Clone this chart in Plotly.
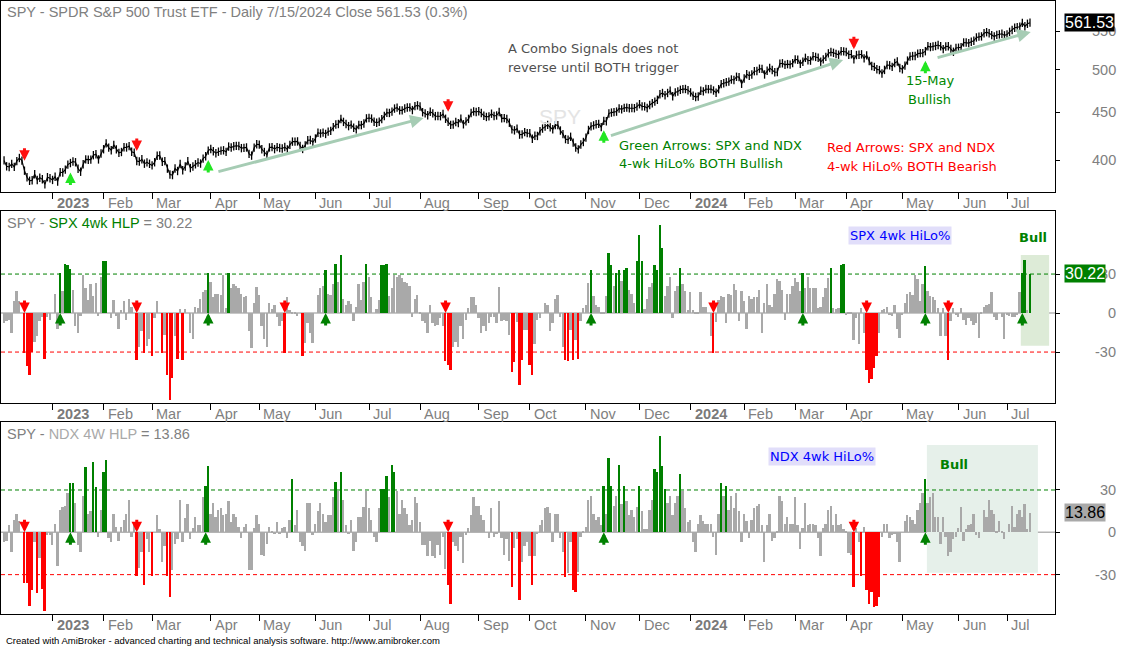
import math
import plotly.graph_objects as go

# SPY daily closes, 5 Dec 2022 .. 15 Jul 2024 (one row per month)
close = [
    399.6, 393.8, 393.2, 396.2, 393.3, 398.9, 402.0, 399.4, 389.6, 383.3, 380.0, 380.5, 386.2, 380.7, 382.9, 381.4, 376.7, 383.4, 382.4,
    380.8, 383.8, 379.4, 388.1, 387.9, 390.6, 395.5, 397.0, 398.5, 397.8, 391.5, 388.6, 395.9, 400.6, 400.2, 400.4, 404.8, 405.7, 400.6, 406.5,
    410.8, 416.8, 412.4, 409.8, 415.2, 410.7, 407.1, 408.0, 412.8, 412.6, 414.0, 408.3, 407.3, 399.1, 398.5, 400.7, 396.4, 397.7, 396.3,
    394.7, 397.8, 404.2, 404.5, 398.3, 398.9, 391.6, 385.9, 385.4, 391.7, 389.3, 396.1, 390.0, 393.7, 398.9, 392.1, 393.7, 395.8, 397.5, 396.5, 401.4, 403.7, 409.4,
    411.0, 408.7, 406.8, 408.3, 409.4, 409.7, 408.1, 413.5, 412.5, 413.9, 414.2, 414.1, 411.9, 412.2, 412.6, 406.1, 404.4, 412.4, 415.9,
    415.5, 410.8, 408.0, 405.1, 412.6, 412.9, 410.9, 412.9, 412.1, 411.6, 413.0, 410.6, 415.2, 418.6, 418.6, 418.8, 414.1, 411.1, 414.7, 420.0, 420.2, 417.9,
    421.8, 427.9, 427.1, 428.0, 426.6, 429.1, 429.9, 433.8, 436.7, 437.2, 442.6, 439.5, 437.2, 434.9, 436.5, 433.2, 431.4, 436.2, 436.0, 437.7, 443.3,
    443.8, 443.1, 439.7, 438.6, 439.7, 442.5, 446.0, 449.6, 449.3, 450.8, 454.2, 455.2, 452.2, 452.2, 454.2, 455.4, 455.5, 452.5, 456.9, 457.8,
    456.5, 450.1, 448.8, 446.8, 450.7, 448.8, 445.8, 445.9, 445.7, 448.1, 442.9, 439.6, 436.3, 436.5, 439.3, 438.2, 443.0, 436.9, 440.0, 442.8, 449.2, 451.0, 450.4,
    451.2, 449.2, 446.2, 444.9, 445.5, 448.5, 446.0, 446.5, 450.4, 443.4, 443.6, 442.7, 438.6, 431.4, 430.4, 432.2, 425.9, 426.1, 428.5, 427.5,
    427.3, 421.6, 424.7, 424.5, 429.5, 432.3, 434.5, 436.3, 433.7, 431.5, 436.0, 436.0, 430.2, 426.4, 421.2, 420.5, 423.6, 417.6, 412.6, 410.7, 415.6, 418.2,
    422.7, 430.8, 434.7, 435.7, 436.9, 437.3, 433.8, 440.6, 440.2, 448.7, 449.7, 450.2, 450.8, 454.3, 453.3, 455.0, 455.3, 454.5, 454.9, 454.6, 456.4,
    459.1, 456.7, 456.6, 454.8, 458.2, 460.2, 462.0, 464.1, 470.5, 472.0, 469.3, 472.0, 474.8, 468.3, 472.7, 473.7, 475.7, 476.5, 476.7, 475.3,
    472.7, 468.8, 467.3, 467.9, 474.6, 473.9, 476.6, 476.4, 476.7, 474.9, 472.3, 476.5, 482.4, 483.5, 484.9, 485.4, 488.0, 487.4, 491.3, 490.9, 482.9,
    489.2, 494.4, 492.6, 494.0, 498.1, 498.3, 501.2, 501.0, 494.1, 498.6, 502.0, 499.5, 496.8, 497.2, 507.5, 507.9, 506.0, 506.9, 506.3, 508.1,
    512.9, 512.3, 507.2, 509.8, 514.8, 511.7, 511.3, 516.8, 516.0, 515.0, 509.8, 512.9, 516.0, 520.5, 522.2, 521.2, 519.8, 518.8, 523.2, 523.1,
    522.2, 518.8, 519.4, 513.1, 518.4, 518.7, 519.3, 514.1, 518.0, 510.9, 504.5, 503.5, 500.6, 499.5, 495.2, 499.7, 505.7, 505.4, 503.5, 508.3, 510.1, 502.0,
    500.4, 505.0, 511.3, 516.6, 517.1, 517.2, 520.2, 520.8, 520.9, 523.3, 529.8, 528.7, 529.5, 530.1, 531.4, 529.8, 526.0, 529.4, 529.8, 526.1, 522.6, 527.4,
    527.8, 528.4, 534.7, 534.7, 533.9, 535.7, 537.0, 541.4, 542.5, 542.8, 547.1, 548.5, 547.0, 544.5, 542.7, 544.8, 545.5, 546.4, 544.2,
    545.3, 549.0, 551.5, 554.6, 555.3, 555.8, 561.3, 556.5, 560.0, 561.53,
]

# SPX 4-week HiLo% (10 values per row)
spx_hlp = [
    -8, -6, -5, -15, 9, 17, 9, 0, -31, -41,
    -48, -30, -22, -18, -6, -3, -35, -3, -5, 0,
    15, -12, 31, 17, 38, 37, 34, 18, -10, -15,
    -2, 29, 19, 10, 22, 13, 23, -2, 28, 40,
    40, 0, -4, 10, -2, -12, 2, 9, -5, 11,
    5, 0, -36, -26, -14, -31, -25, -20, -33, -4,
    9, 0, -31, -17, -48, -67, -50, -18, -35, 3,
    -36, 3, 0, -15, -20, 5, 4, 11, 16, 18,
    31, 24, 12, 15, 15, 14, 29, 4, 31, 19,
    22, 21, 19, 15, 12, 13, -14, -27, 8, 20,
    14, -10, -20, -26, 8, 3, 6, -3, -10, -6,
    -31, 12, 2, 1, 1, -2, 0, -33, -23, -8,
    -15, -23, 0, 14, 19, 21, 33, 15, 14, 22,
    38, 24, 45, 11, 6, 9, 7, -6, 5, 22,
    10, 24, 38, 28, 12, 0, 3, 10, 37, 37,
    38, 13, 19, 29, 28, 29, 27, 24, 23, 21,
    -3, 11, 14, 1, -6, -8, -15, 6, -8, -10,
    -9, -4, -10, -37, -40, -44, -26, -22, -26, -10,
    -20, -5, 4, 12, 12, 6, -4, -15, -10, -14,
    -8, -3, -3, -8, 20, -6, -5, -6, -17, -45,
    -38, -7, -55, -36, -13, -13, -40, -48, -24, -5,
    -4, 0, 8, 6, -14, -8, 11, 14, -3, -26,
    -36, -37, -13, -36, -21, -35, -6, 4, 6, 23,
    33, 13, 6, 5, 1, 1, 13, 46, 37, 21,
    31, 33, 25, 33, 35, 18, 15, 8, 40, 60,
    40, 3, 11, 20, 23, 37, 33, 68, 50, 13,
    21, 28, -4, 17, 21, 35, 22, 17, 2, 16,
    2, 1, 1, 16, 5, 5, 0, -18, -31, -7,
    10, 13, 12, -8, 15, 14, 22, 18, -6, 17,
    9, -12, 13, 11, 12, 12, 18, -15, 8, 22,
    6, 5, 15, 26, 25, 18, -5, 15, 15, 21,
    27, 24, 17, 31, 19, 28, 19, 19, 19, 4,
    5, 12, 19, 27, 35, 4, 3, 4, 37, 38,
    -1, 1, 1, -21, -4, -24, 4, -15, -44, -54,
    -51, -42, -33, -15, 2, 3, 5, -1, -2, 6,
    -12, -19, -1, 8, 15, 16, 14, 29, 26, 9,
    22, 36, 17, 13, 12, 10, 4, -18, 4, -18,
    -36, -6, 4, -1, -3, 4, -5, -9, -4, -6,
    -9, -8, -19, 1, 5, 6, 7, 16, -3, -5,
    0, -3, -20, -1, -2, -3, -3, -1, 16, 31,
    41, 2, 30.22,
]

# NDX 4-week HiLo%
ndx_hlp = [
    -7, -6, 5, -14, 9, 13, 8, 0, -36, -36,
    -52, -41, -7, -43, -18, -40, -56, -2, -2, -9,
    6, -24, 16, 18, 19, 28, 35, 35, 21, -9,
    -14, 26, 46, 13, 15, 50, 32, -3, 16, 43,
    51, -4, -7, 13, 4, -6, 4, 9, 13, 23,
    -3, 5, -31, -25, -14, -37, -5, -14, -31, 0,
    12, 2, -21, -10, -31, -46, -27, -8, -5, 23,
    -7, 10, 20, -5, 3, 11, 5, 5, 25, 33,
    47, 13, 21, 11, 16, 17, 12, 13, 22, 7,
    13, 11, 4, -4, 4, 6, -27, -27, 3, 12,
    6, -16, -17, -8, 4, 1, -1, 7, -1, 3,
    4, -4, 9, 38, 5, 16, -7, -10, -13, 21,
    21, -2, 6, 15, 21, 13, 7, 12, 12, 25,
    36, 29, 43, 23, 5, -1, 9, -13, -7, 11,
    11, 18, 29, 17, 9, -3, -7, 17, 31, 31,
    40, 25, 48, 43, 29, 13, 23, 17, 13, 5,
    9, 25, 21, 7, -9, -9, -17, -6, -17, -18,
    -9, -16, -3, -26, -37, -51, -7, -10, -13, -3,
    -22, -2, 3, 12, 25, 19, 19, 12, 9, 0,
    -4, 17, -3, -1, 22, -4, -16, -5, -20, -39,
    -11, -5, -48, -21, -10, -7, -17, -37, -17, -1,
    5, 9, 17, 18, 14, -7, 13, 13, -4, -14,
    -32, -29, -7, -41, -42, -28, -3, 1, 4, 23,
    26, 13, 9, 11, 5, 33, 13, 53, 33, 19,
    26, 48, 20, 33, 22, 12, 16, 11, 18, 33,
    15, 2, 2, 16, 23, 45, 43, 68, 47, 31,
    21, 26, 12, 21, 26, 41, 29, 17, 7, 9,
    -7, -14, 6, 12, 8, 6, 6, 6, -3, -16,
    13, 35, 26, 33, 16, 26, 17, 28, 15, -7,
    13, 8, -4, 9, 17, 19, 20, 5, -21, 5,
    13, -6, -4, 1, 26, 22, 6, 11, 6, 6,
    25, 5, -12, 3, 21, 5, 6, 6, 5, -4,
    -17, 3, 6, 16, 19, 5, 13, 5, 6, 2,
    1, -15, -16, -39, 3, -7, -31, 4, -41, -51,
    -42, -53, -52, -46, -3, 6, 6, -4, -2, -1,
    -7, -21, 0, 8, 12, 11, 9, 6, 16, 21,
    28, 38, 21, 25, 28, 11, 11, -8, 11, -3,
    -17, -14, -5, -3, 3, 18, -6, 2, 5, 6,
    13, -2, -4, 0, 16, 11, 23, 16, 13, 1,
    8, 1, -5, 0, 6, 19, 4, 13, 16, 11,
    20, 2, 13.86,
]

# first trading day of each month (bar number) and its label
month_start = [19, 39, 58, 81, 100, 122, 143, 163, 186, 206, 228, 249, 269, 290, 310, 330, 352, 374, 393]
month_label = ["2023", "Feb", "Mar", "Apr", "May", "Jun", "Jul", "Aug", "Sep", "Oct", "Nov", "Dec",
               "2024", "Feb", "Mar", "Apr", "May", "Jun", "Jul"]

# combo signals (both SPX and NDX agree)
combo_down = [8, 52, 174, 333]
combo_up = [26, 80, 235, 361]

price_ticks = [400, 450, 500, 550]
hlp_ticks = [-30, 0, 30]

assert len(spx_hlp) == len(close) and len(ndx_hlp) == len(close)

idx = list(range(len(close)))
GREEN = "#008000"
RED = "#FF0000"
GRAY = "#A9A9A9"
LABEL = "#808080"
XR = [-1.2, 411.8]


def bar_colors(vals):
    return [GREEN if v >= 30 else RED if v <= -30 else GRAY for v in vals]


def flips(vals):
    ups, downs, state = [], [], 0
    for i, v in enumerate(vals):
        if v >= 30 and state != 1:
            ups.append(i)
            state = 1
        elif v <= -30 and state != -1:
            downs.append(i)
            state = -1
    return ups, downs


fig = go.Figure()

fig.add_trace(go.Scatter(
    x=idx, y=close, mode="lines+markers", xaxis="x", yaxis="y",
    line=dict(color="black", width=1.1),
    marker=dict(symbol="line-ns", size=6, line=dict(width=1.3, color="black")),
    hoverinfo="skip"))

fig.add_trace(go.Bar(x=idx, y=spx_hlp, width=0.72, xaxis="x2", yaxis="y2",
                     marker=dict(color=bar_colors(spx_hlp), line=dict(width=0))))
fig.add_trace(go.Bar(x=idx, y=ndx_hlp, width=0.72, xaxis="x3", yaxis="y3",
                     marker=dict(color=bar_colors(ndx_hlp), line=dict(width=0))))

# pointers of the last-value boxes on the right axis
for ya, last, col in [("y", close[-1], "black"), ("y2", spx_hlp[-1], GREEN), ("y3", ndx_hlp[-1], "#A9A9A9")]:
    xa = "x" if ya == "y" else "x" + ya[1:]
    fig.add_trace(go.Scatter(x=[412.2], y=[last], mode="markers", xaxis=xa, yaxis=ya,
                             cliponaxis=False, hoverinfo="skip",
                             marker=dict(symbol="arrow-wide", angle=-90, size=13.5, color=col)))


def xax(anchor):
    return dict(range=XR, anchor=anchor, tickvals=month_start, ticks="outside", ticklen=6,
                tickcolor="black", showticklabels=False, showline=True, linecolor="black",
                linewidth=1, mirror=True, showgrid=False, zeroline=False)


def yax(anchor, domain, rng, tickvals, typ="linear"):
    return dict(anchor=anchor, domain=domain, range=rng, type=typ, side="right",
                tickvals=tickvals, ticks="outside", ticklen=4, tickcolor="black",
                showticklabels=False, showline=True, linecolor="black", linewidth=1,
                mirror=True, showgrid=False, zeroline=False)


fig.update_layout(
    width=1123, height=647,
    margin=dict(l=1, r=68, t=1, b=0),
    paper_bgcolor="white", plot_bgcolor="white",
    showlegend=False, bargap=0,
    font=dict(family="Liberation Sans, Arial, sans-serif", size=14, color=LABEL),
    xaxis=xax("y"), xaxis2=xax("y2"), xaxis3=xax("y3"),
    yaxis=yax("x", [0.7043, 1.0], [math.log10(369.6), math.log10(592.4)], price_ticks, "log"),
    yaxis2=yax("x2", [0.3777, 0.6749], [-69.2, 78.5], hlp_ticks),
    yaxis3=yax("x3", [0.0511, 0.3483], [-57.9, 78.2], hlp_ticks),
)

shapes = []
for n, (top, bot) in [("2", (44.6, -25.2)), ("3", (61.9, -28.7))]:
    x0, x1 = (398.4, 409.5) if n == "2" else (361.6, 405.1)
    shapes.append(dict(type="rect", xref="x" + n, yref="y" + n, x0=x0, x1=x1, y0=bot, y1=top,
                       fillcolor="#DDEBD7" if n == "2" else "#E6F0EA", line=dict(width=0), layer="below"))
    shapes.append(dict(type="line", xref="x%s domain" % n, yref="y" + n, x0=0, x1=1, y0=0, y1=0,
                       line=dict(color="#B4B4B4", width=1.5), layer="below"))
    shapes.append(dict(type="line", xref="x%s domain" % n, yref="y" + n, x0=0, x1=1, y0=30, y1=30,
                       line=dict(color=GREEN, width=1, dash="4px,3px")))
    shapes.append(dict(type="line", xref="x%s domain" % n, yref="y" + n, x0=0, x1=1, y0=-30, y1=-30,
                       line=dict(color=RED, width=1, dash="4px,3px")))
fig.update_layout(shapes=shapes)

ann = []


def lg(v):
    return math.log10(v)


def sig_arrow(xref, yref, x, y, color, up, length=14):
    return dict(xref=xref, yref=yref, x=x, y=y, text="", showarrow=True, arrowhead=2,
                arrowsize=0.7, arrowwidth=3, arrowcolor=color, ax=0,
                ay=length if up else -length, standoff=0)


# titles
ann.append(dict(xref="paper", yref="y domain", x=0, y=1, xanchor="left", yanchor="top", xshift=4, yshift=-1,
                showarrow=False, font=dict(size=14.5),
                text="SPY - SPDR S&P 500 Trust ETF - Daily 7/15/2024 Close 561.53 (0.3%)"))
ann.append(dict(xref="paper", yref="y2 domain", x=0, y=1, xanchor="left", yanchor="top", xshift=4, yshift=-2,
                showarrow=False, font=dict(size=14.5),
                text="SPY - <span style='color:#008000'>SPX 4wk HLP</span> = 30.22"))
ann.append(dict(xref="paper", yref="y3 domain", x=0, y=1, xanchor="left", yanchor="top", xshift=4, yshift=-2,
                showarrow=False, font=dict(size=14.5),
                text="SPY - <span style='color:#A9A9A9'>NDX 4W HLP</span> = 13.86"))

# month labels under each panel
for n in ["", "2", "3"]:
    for t, lab in zip(month_start, month_label):
        txt = "<b>%s</b>" % lab if lab.isdigit() else lab
        ann.append(dict(xref="x" + n, yref="y%s domain" % n, x=t, y=0, xanchor="left", yanchor="top",
                        xshift=2, yshift=-1, showarrow=False, text=txt,
                        font=dict(size=14.5, color="#7A7A7A" if lab.isdigit() else LABEL)))

# right-axis labels
for v in price_ticks:
    ann.append(dict(xref="paper", yref="y", x=1.0598, y=lg(v), xanchor="right", yanchor="middle",
                    showarrow=False, text=str(v), font=dict(size=14.5, color=LABEL)))
for n in ["2", "3"]:
    for v in hlp_ticks:
        ann.append(dict(xref="paper", yref="y" + n, x=1.0598, y=v, xanchor="right", yanchor="middle",
                        showarrow=False, text=str(v), font=dict(size=14.5, color=LABEL)))

# last-value boxes
for yref, yv, txt, bg, fg in [("y", lg(close[-1]), "561.53", "black", "white"),
                              ("y2", spx_hlp[-1], "30.22", GREEN, "white"),
                              ("y3", ndx_hlp[-1], "13.86", "#A9A9A9", "black")]:
    ann.append(dict(xref="paper", yref=yref, x=1.0085, y=yv, xanchor="left", yanchor="middle",
                    showarrow=False, text=txt, bgcolor=bg, borderpad=0,
                    font=dict(size=16, color=fg)))

# watermark and notes in price panel
ann.append(dict(xref="x", yref="y", x=218, y=lg(445.9), showarrow=False, text="SPY",
                font=dict(size=21, color="#E4E4E4")))
notes = [
    ("A Combo Signals does not", 196.5, 527.0, "#505050"),
    ("reverse until BOTH trigger", 196.5, 503.2, "#505050"),
    ("Green Arrows: SPX and NDX", 240.3, 415.1, GREEN),
    ("4-wk HiLo% BOTH Bullish", 240.3, 396.6, GREEN),
    ("Red Arrows: SPX and NDX", 321.6, 412.3, RED),
    ("4-wk HiLo% BOTH Bearish", 321.6, 394.1, RED),
]
for txt, xv, pv, col in notes:
    ann.append(dict(xref="x", yref="y", x=xv, y=lg(pv), xanchor="left", yanchor="middle",
                    showarrow=False, text=txt, font=dict(family="DejaVu Sans", size=13, color=col)))
for txt, pv in [("15-May", 487.4), ("Bullish", 465.0)]:
    ann.append(dict(xref="x", yref="y", x=362.7, y=lg(pv), xanchor="center", yanchor="middle",
                    showarrow=False, text=txt, font=dict(family="DejaVu Sans", size=13, color="#008800")))

# trend arrows
for (x0, p0), (x1, p1) in [((83.4, 388.3), (164.4, 443.7)),
                           ((237.2, 424.4), (328.8, 512.1)),
                           ((365.2, 514.6), (402.3, 548.7))]:
    ann.append(dict(xref="x", yref="y", axref="x", ayref="y", x=x1, y=lg(p1), ax=x0, ay=lg(p0),
                    text="", showarrow=True, arrowhead=2, arrowsize=0.9, arrowwidth=3,
                    arrowcolor="#A6CCB4", standoff=0))

# combo arrows on price
for i in combo_down:
    ann.append(sig_arrow("x", "y", i, lg(close[i] * 1.025), "#FF1010", False))
for i in combo_up:
    ann.append(sig_arrow("x", "y", i, lg(close[i] * 0.977), "#22E622", True))

# indicator flips
for n, vals in [("2", spx_hlp), ("3", ndx_hlp)]:
    ups, downs = flips(vals)
    for i in downs:
        ann.append(sig_arrow("x" + n, "y" + n, i, 0, RED, False))
    for i in ups:
        ann.append(sig_arrow("x" + n, "y" + n, i, 0, GREEN, True))

# panel captions
ann.append(dict(xref="x2", yref="y2", x=350.9, y=60, showarrow=False, text="SPX 4wk HiLo%",
                bgcolor="#E1DEFA", borderpad=1, font=dict(family="DejaVu Sans", size=13, color="#0000FF")))
ann.append(dict(xref="x3", yref="y3", x=320.6, y=53.4, showarrow=False, text="NDX 4wk HiLo%",
                bgcolor="#E1DEFA", borderpad=1, font=dict(family="DejaVu Sans", size=13, color="#0000FF")))
ann.append(dict(xref="x2", yref="y2", x=403.2, y=58.5, showarrow=False, text="<b>Bull</b>",
                font=dict(family="DejaVu Sans", size=13, color=GREEN)))
ann.append(dict(xref="x3", yref="y3", x=372.3, y=48.4, showarrow=False, text="<b>Bull</b>",
                font=dict(family="DejaVu Sans", size=13, color=GREEN)))

ann.append(dict(xref="paper", yref="paper", x=0, y=0.0093, xanchor="left", yanchor="middle", xshift=3,
                showarrow=False, font=dict(size=9.5, color="black"),
                text="Created with AmiBroker - advanced charting and technical analysis software. http://www.amibroker.com"))

fig.update_layout(annotations=ann)
fig.write_html("out.html", config={"displayModeBar": False},
               post_script="document.body.style.margin='0px';")
